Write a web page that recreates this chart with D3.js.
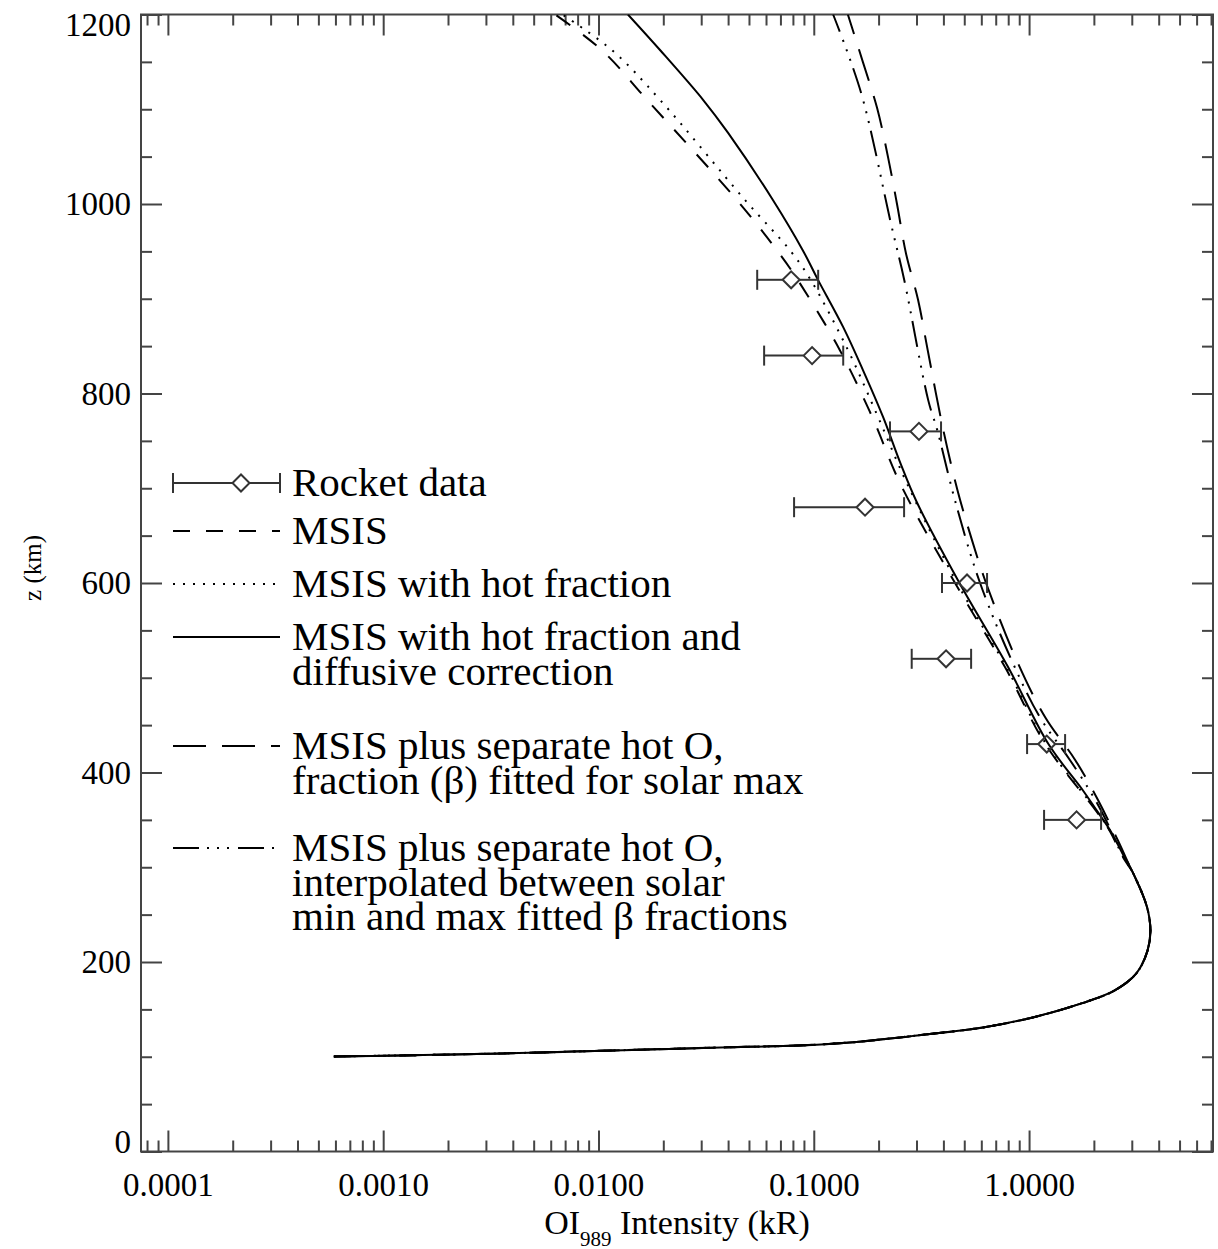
<!DOCTYPE html>
<html>
<head>
<meta charset="utf-8">
<script src="https://cdn.jsdelivr.net/npm/d3@7"></script>
<style>
  html, body { margin: 0; padding: 0; background: #fff; }
  svg { display: block; }
  text { font-family: "Liberation Serif", "Times New Roman", serif; fill: #000; }
</style>
</head>
<body>
<svg id="chart" width="1218" height="1249"></svg>
<script>
// Altitude (km) / OI 989 intensity (kR).
// Below ~300 km every model follows the same curve.
const baseZ = [100.3, 101.4, 102.4, 104.5, 106.7, 109.8, 111.9, 115.1, 120.4, 122.5, 130.9, 141.5, 156.3, 170, 188, 212, 233, 258, 294];
const baseI = [0.00059, 0.0012, 0.0021, 0.0054, 0.0118, 0.037, 0.085, 0.147, 0.252, 0.302, 0.611, 1.04, 1.75, 2.5, 3.15, 3.55, 3.66, 3.53, 3.04];

// MSIS (short dash)
const msisZ = [310, 339, 360, 430, 511, 600, 705, 775, 846, 921, 951, 1004, 1110, 1162, 1200];
const msisI = [2.74, 2.36, 2.04, 1.19, 0.774, 0.453, 0.252, 0.187, 0.132, 0.0836, 0.0675, 0.044, 0.0168, 0.0104, 0.0063];

// MSIS with hot fraction (dotted)
const hotZ = [310, 339, 360, 430, 511, 600, 705, 775, 846, 921, 951, 1004, 1110, 1162, 1200];
const hotI = [2.75, 2.37, 2.05, 1.2, 0.785, 0.463, 0.271, 0.199, 0.144, 0.0961, 0.0776, 0.048, 0.0193, 0.0116, 0.0068];

// MSIS with hot fraction and diffusive correction (solid)
const diffZ = [310, 339, 360, 381, 430, 511, 600, 686, 727, 775, 825, 870, 921, 951, 1004, 1075, 1110, 1162, 1200];
const diffI = [2.78, 2.38, 2.06, 1.78, 1.23, 0.8, 0.475, 0.3, 0.252, 0.21, 0.169, 0.137, 0.104, 0.089, 0.0647, 0.04, 0.0306, 0.0194, 0.0137];

// MSIS plus separate hot O, beta fitted for solar max (long dash)
const maxZ = [300, 328, 371, 413, 458, 515, 600, 645, 698, 761, 846, 899, 948, 999, 1050, 1101, 1150, 1200];
const maxI = [2.95, 2.59, 2.09, 1.64, 1.19, 0.889, 0.631, 0.5435, 0.465, 0.4, 0.338, 0.305, 0.268, 0.244, 0.221, 0.197, 0.169, 0.144];

// MSIS plus separate hot O, interpolated beta (dash-dot-dot)
const interpZ = [300, 328, 371, 413, 458, 515, 600, 687, 761, 793, 920, 978, 1117, 1200];
const interpI = [2.95, 2.54, 2.03, 1.55, 1.125, 0.843, 0.592, 0.453, 0.375, 0.34, 0.263, 0.229, 0.166, 0.123];

// Rocket data: altitude, value, error bar low/high
const rocketZ = [920, 840, 760, 680, 600, 520, 430, 350];
const rocketI = [0.0785, 0.0982, 0.308, 0.173, 0.515, 0.4115, 1.208, 1.662];
const rocketLo = [0.0546, 0.0588, 0.226, 0.081, 0.394, 0.285, 0.979, 1.174];
const rocketHi = [0.1048, 0.137, 0.39, 0.2627, 0.638, 0.538, 1.47, 2.16];

const xDecades = [0.0001, 0.001, 0.01, 0.1, 1];
const zMajor = [0, 200, 400, 600, 800, 1000, 1200];
const zMinor = d3.range(0, 1201, 50);

const legendLabels = [
  ["Rocket data"],
  ["MSIS"],
  ["MSIS with hot fraction"],
  ["MSIS with hot fraction and", "diffusive correction"],
  ["MSIS plus separate hot O,", "fraction (\u03B2) fitted for solar max"],
  ["MSIS plus separate hot O,", "interpolated between solar", "min and max fitted \u03B2 fractions"]
];

// ---- layout ----
const W = 1218, H = 1249;
const margin = { top: 14.5, right: 5, bottom: 97.5, left: 141 };
const width = W - margin.left - margin.right;
const height = H - margin.top - margin.bottom;

const dashes = {
  msis: "17,16",
  hot: "2,8",
  diff: null,
  max: "33,16",
  interp: "26,8,2,8,2,8,2,9"
};

const svg = d3.select("#chart");
const g = svg.append("g").attr("transform", `translate(${margin.left},${margin.top})`);

const x = d3.scaleLog().domain([7.5e-5, 7.15]).range([0, width]);
const y = d3.scaleLinear().domain([0, 1200]).range([height, 0]);

const xMinor = x.ticks().filter((v) => !xDecades.some((d) => Math.abs(d - v) / d < 1e-6));

// axes, ticks pointing inward on all four sides
function styleAxis(sel) {
  sel.select(".domain").remove();
  sel.selectAll(".tick line").attr("stroke", "#444").attr("stroke-width", 2);
  sel.selectAll("text")
    .attr("font-family", "'Liberation Serif', 'Times New Roman', serif")
    .attr("font-size", 33)
    .attr("fill", "#000");
}

g.append("g").attr("transform", `translate(0,${height})`)
  .call(d3.axisBottom(x).tickValues(xDecades).tickSize(-21).tickPadding(21).tickFormat(d3.format(".4f")))
  .call(styleAxis);
g.append("g").attr("transform", `translate(0,${height})`)
  .call(d3.axisBottom(x).tickValues(xMinor).tickSize(-11).tickFormat(""))
  .call(styleAxis);
g.append("g")
  .call(d3.axisTop(x).tickValues(xDecades).tickSize(-21).tickFormat(""))
  .call(styleAxis);
g.append("g")
  .call(d3.axisTop(x).tickValues(xMinor).tickSize(-11).tickFormat(""))
  .call(styleAxis);

const yAxis = g.append("g")
  .call(d3.axisLeft(y).tickValues(zMajor).tickSize(-21).tickPadding(10).tickFormat(d3.format("d")))
  .call(styleAxis);
// end labels are pulled inside the frame
yAxis.selectAll(".tick text").attr("transform", (d) => d === 0 ? "translate(0,-10)" : d === 1200 ? "translate(0,10)" : null);
g.append("g")
  .call(d3.axisLeft(y).tickValues(zMinor.filter((v) => v % 200 !== 0)).tickSize(-11).tickFormat(""))
  .call(styleAxis);
g.append("g").attr("transform", `translate(${width},0)`)
  .call(d3.axisRight(y).tickValues(zMajor).tickSize(-21).tickFormat(""))
  .call(styleAxis);
g.append("g").attr("transform", `translate(${width},0)`)
  .call(d3.axisRight(y).tickValues(zMinor.filter((v) => v % 200 !== 0)).tickSize(-11).tickFormat(""))
  .call(styleAxis);

g.append("rect")
  .attr("width", width).attr("height", height)
  .attr("fill", "none").attr("stroke", "#444").attr("stroke-width", 2);

// axis titles
const xTitle = g.append("text")
  .attr("x", width / 2).attr("y", height + 82)
  .attr("text-anchor", "middle").attr("font-size", 34);
xTitle.append("tspan").text("OI");
xTitle.append("tspan").attr("font-size", 21).attr("dy", 12).text("989");
xTitle.append("tspan").attr("dy", -12).text(" Intensity (kR)");

svg.append("text")
  .attr("transform", "translate(41,568) rotate(-90)")
  .attr("text-anchor", "middle").attr("font-size", 25)
  .text("z (km)");

// model curves
g.append("clipPath").attr("id", "plot-clip")
  .append("rect").attr("width", width).attr("height", height);

const line = d3.line()
  .x((d) => x(d.I))
  .y((d) => y(d.z))
  .curve(d3.curveCatmullRom.alpha(0.5));

const base = baseZ.map((z, i) => ({ z, I: baseI[i] }));
const series = [
  { key: "msis", z: msisZ, I: msisI },
  { key: "hot", z: hotZ, I: hotI },
  { key: "max", z: maxZ, I: maxI },
  { key: "interp", z: interpZ, I: interpI },
  { key: "diff", z: diffZ, I: diffI }
];

const curves = g.append("g").attr("clip-path", "url(#plot-clip)");
series.forEach((s) => {
  const pts = base.concat(s.z.map((z, i) => ({ z, I: s.I[i] })));
  curves.append("path")
    .datum(pts)
    .attr("fill", "none")
    .attr("stroke", "#000")
    .attr("stroke-width", 2)
    .attr("stroke-dasharray", dashes[s.key])
    .attr("d", line);
});

// rocket data with horizontal error bars
const dia = 8.5, cap = 10;
function errorMark(sel, cx, cy, lo, hi) {
  sel.append("line").attr("x1", lo).attr("x2", cx - dia).attr("y1", cy).attr("y2", cy);
  sel.append("line").attr("x1", cx + dia).attr("x2", hi).attr("y1", cy).attr("y2", cy);
  sel.append("line").attr("x1", lo).attr("x2", lo).attr("y1", cy - cap).attr("y2", cy + cap);
  sel.append("line").attr("x1", hi).attr("x2", hi).attr("y1", cy - cap).attr("y2", cy + cap);
  sel.append("path")
    .attr("d", `M${cx - dia},${cy}L${cx},${cy - dia}L${cx + dia},${cy}L${cx},${cy + dia}Z`)
    .attr("fill", "none");
}

const rocket = g.append("g").attr("stroke", "#333").attr("stroke-width", 2);
rocketZ.forEach((z, i) => {
  errorMark(rocket.append("g"), x(rocketI[i]), y(z), x(rocketLo[i]), x(rocketHi[i]));
});

// legend
const legendRowY = [483, 531, 584, 637, 746, 848];
const legendKeys = ["rocket", "msis", "hot", "diff", "max", "interp"];
const lineGap = 34.5;
const legend = svg.append("g");
legendKeys.forEach((k, i) => {
  const cy = legendRowY[i];
  if (k === "rocket") {
    errorMark(legend.append("g").attr("stroke", "#333").attr("stroke-width", 2), 241, cy, 173, 280);
  } else {
    legend.append("line")
      .attr("x1", 173).attr("x2", 280).attr("y1", cy).attr("y2", cy)
      .attr("stroke", "#000").attr("stroke-width", 2)
      .attr("stroke-dasharray", dashes[k]);
  }
  legendLabels[i].forEach((t, j) => {
    legend.append("text")
      .attr("x", 292).attr("y", cy + 13 + j * lineGap)
      .attr("font-size", 41)
      .text(t);
  });
});
</script>
</body>
</html>
